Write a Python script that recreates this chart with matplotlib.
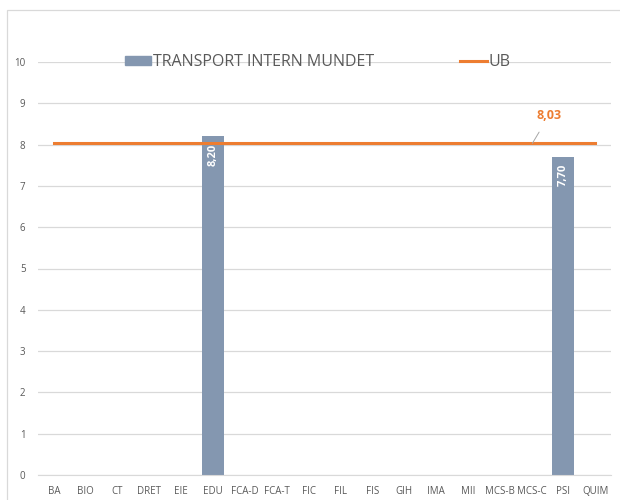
import matplotlib
matplotlib.use('Agg')
import matplotlib.pyplot as plt
from matplotlib.patches import Rectangle, Patch
from matplotlib.lines import Line2D
import numpy as np

plt.rcParams['font.family'] = ['Open Sans', 'DejaVu Sans']

# dades
categories = ["BA", "BIO", "CT", "DRET", "EIE", "EDU", "FCA-D", "FCA-T", "FIC",
              "FIL", "FIS", "GIH", "IMA", "MII", "MCS-B", "MCS-C", "PSI", "QUIM"]
transport = [np.nan, np.nan, np.nan, np.nan, np.nan, 8.20, np.nan, np.nan, np.nan,
             np.nan, np.nan, np.nan, np.nan, np.nan, np.nan, np.nan, 7.70, np.nan]
ub = [8.03] * len(categories)
yticks = [0, 1, 2, 3, 4, 5, 6, 7, 8, 9, 10]

bar_color = '#8497B0'
line_color = '#ED7D31'
grid_color = '#D9D9D9'
text_color = '#595959'

fig = plt.figure(figsize=(6.2, 5), dpi=100)
ax = fig.add_axes([38/620, 1-475/500, (611-38)/620, (475-62)/500])

x = np.arange(len(categories))
ax.bar(x, transport, width=0.7, color=bar_color, zorder=2)
ax.plot(x, ub, color=line_color, lw=2.2, zorder=3)

# etiquetes de les barres
for xi, v in zip(x, transport):
    if not np.isnan(v):
        ax.annotate(f"{v:.2f}".replace('.', ','), (xi, v), xytext=(0, -5),
                    textcoords='offset points', rotation=90, ha='center', va='top',
                    color='white', fontsize=8, fontweight='bold', zorder=4)

# etiqueta UB
ax.annotate(f"{ub[15]:.2f}".replace('.', ','), xy=(15.03, ub[15]), xytext=(15.55, 8.70),
            ha='center', va='center', color=line_color, fontsize=9, fontweight='bold',
            arrowprops=dict(arrowstyle='-', color='#A6A6A6', lw=0.7, shrinkA=6, shrinkB=0),
            zorder=4)

ax.set_xlim(-0.5, len(categories) - 0.5)
ax.set_ylim(0, 10)
ax.set_yticks(yticks)
ax.set_xticks(x)
ax.set_xticklabels(categories)
ax.grid(axis='y', color=grid_color, lw=0.9, zorder=0)
ax.tick_params(axis='both', length=0, labelsize=7, labelcolor=text_color)
ax.tick_params(axis='y', pad=9)
ax.tick_params(axis='x', pad=8)
for s in ['top', 'right', 'left']:
    ax.spines[s].set_visible(False)
ax.spines['bottom'].set_color(grid_color)

handles = [Patch(color=bar_color), Line2D([0], [0], color=line_color, lw=2.2)]
leg = ax.legend(handles, ["TRANSPORT INTERN MUNDET", "UB"], ncol=2, loc='center',
                bbox_to_anchor=(0.488, 1.0), frameon=False, fontsize=11.5,
                handlelength=1.65, handleheight=0.5, handletextpad=0.1,
                columnspacing=5.4, labelcolor=text_color)

# marc del grafic
fig.patches.append(Rectangle((7/620, -0.1), 1.2, 1-10/500+0.1, transform=fig.transFigure,
                             fill=False, edgecolor=grid_color, lw=0.9))

fig.savefig('out.png', dpi=100)
